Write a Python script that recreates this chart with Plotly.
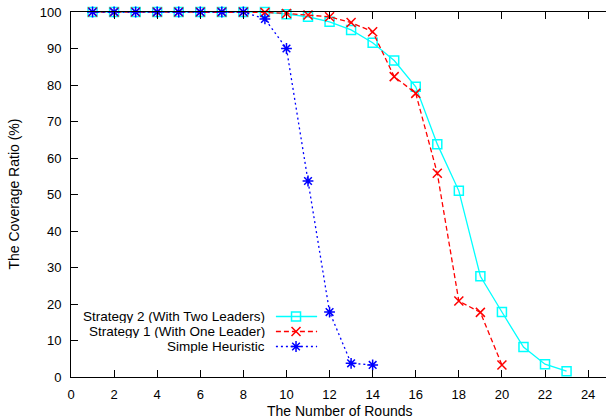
import plotly.graph_objects as go

# Coverage ratio (%) per round for each scheme
rounds_s2 = list(range(1, 24))
coverage_s2 = [100, 100, 100, 100, 100, 100, 100, 100, 100, 99.4, 98.7, 97.3, 95.1, 91.6,
               86.7, 79.5, 63.8, 51.0, 27.6, 17.8, 8.2, 3.5, 1.6]

rounds_s1 = list(range(1, 21))
coverage_s1 = [100, 100, 100, 100, 100, 100, 100, 100, 99.9, 99.6, 99.2, 98.7, 97.1, 94.6,
               82.3, 77.7, 55.8, 20.8, 17.7, 3.3]

rounds_sh = list(range(1, 15))
coverage_sh = [100, 100, 100, 100, 100, 100, 100, 100, 98.1, 90.0, 53.7, 17.8, 3.75, 3.3]

series_names = ["Strategy 2 (With Two Leaders)", "Strategy 1 (With One Leader)", "Simple Heuristic"]
x_ticks = list(range(0, 25, 2))
y_ticks = list(range(0, 101, 10))

CYAN = "#00ffff"
RED = "#ff0000"
BLUE = "#0000ff"
FONT = "Liberation Sans, Arial, Helvetica, sans-serif"

styles = [
    dict(color=CYAN, dash="solid", symbol="square-open", size=9),
    dict(color=RED, dash="5px,3px", symbol="x-thin-open", size=9),
    dict(color=BLUE, dash="2px,3px", symbol="asterisk-open", size=9),
]
data = [(rounds_s2, coverage_s2), (rounds_s1, coverage_s1), (rounds_sh, coverage_sh)]

fig = go.Figure()
for (xs, ys), st, name in zip(data, styles, series_names):
    fig.add_trace(go.Scatter(
        x=xs, y=ys, mode="lines+markers", name=name, showlegend=False,
        line=dict(color=st["color"], width=1.3, dash=st["dash"]),
        marker=dict(symbol=st["symbol"], size=st["size"],
                    color=st["color"], line=dict(color=st["color"], width=1.5)),
        cliponaxis=False,
    ))

# Key in the lower-left: right-aligned labels followed by line samples
key_rows = [0.1658, 0.1247, 0.0836]
key_x0, key_x1, key_mid, key_text_x = 0.383, 0.460, 0.4206, 0.3645
for yk, st, name in zip(key_rows, styles, series_names):
    fig.add_trace(go.Scatter(
        x=[key_x0, key_mid, key_x1], y=[yk, yk, yk], xaxis="x2", yaxis="y3",
        mode="lines", showlegend=False, hoverinfo="skip",
        line=dict(color=st["color"], width=1.3, dash=st["dash"]),
    ))
    fig.add_trace(go.Scatter(
        x=[key_mid], y=[yk], xaxis="x2", yaxis="y3",
        mode="markers", showlegend=False, hoverinfo="skip",
        marker=dict(symbol=st["symbol"], size=st["size"],
                    color=st["color"], line=dict(color=st["color"], width=1.5)),
    ))
    fig.add_annotation(x=key_text_x, y=yk, xref="paper", yref="paper",
                       text=name, showarrow=False, xanchor="right", yanchor="middle",
                       height=14, borderpad=0,
                       font=dict(family=FONT, size=13.5, color="#000000"))

axis_common = dict(
    showgrid=False, zeroline=False, ticks="inside", ticklen=7, tickwidth=1,
    tickcolor="#000000", linecolor="#000000", linewidth=1,
    tickfont=dict(family=FONT, size=13, color="#000000"),
)

fig.update_layout(
    width=606, height=419,
    margin=dict(l=71, r=0, t=12, b=42),
    paper_bgcolor="white", plot_bgcolor="white",
    xaxis=dict(range=[0, 24.83], tickvals=x_ticks, showline=True, mirror="ticks",
               ticklabelstandoff=5, **axis_common),
    yaxis=dict(range=[0, 100], tickvals=y_ticks, showline=True, mirror=False,
               ticklabelstandoff=6, **axis_common),
    yaxis2=dict(range=[0, 100], tickvals=y_ticks, overlaying="y", side="right",
                anchor="x", showline=False, showticklabels=False, showgrid=False,
                zeroline=False, ticks="inside", ticklen=7, tickcolor="#000000"),
    xaxis2=dict(range=[0, 1], overlaying="x", visible=False),
    yaxis3=dict(range=[0, 1], overlaying="y", visible=False),
    showlegend=False,
)

fig.add_annotation(x=0.503, y=-0.093, xref="paper", yref="paper",
                   text="The Number of Rounds", showarrow=False,
                   xanchor="center", yanchor="middle",
                   font=dict(family=FONT, size=14, color="#000000"))
fig.add_annotation(x=-0.1084, y=0.5, xref="paper", yref="paper",
                   text="The Coverage Ratio (%)", showarrow=False, textangle=-90,
                   xanchor="center", yanchor="middle",
                   font=dict(family=FONT, size=14, color="#000000"))

fig.write_html("out.html")
